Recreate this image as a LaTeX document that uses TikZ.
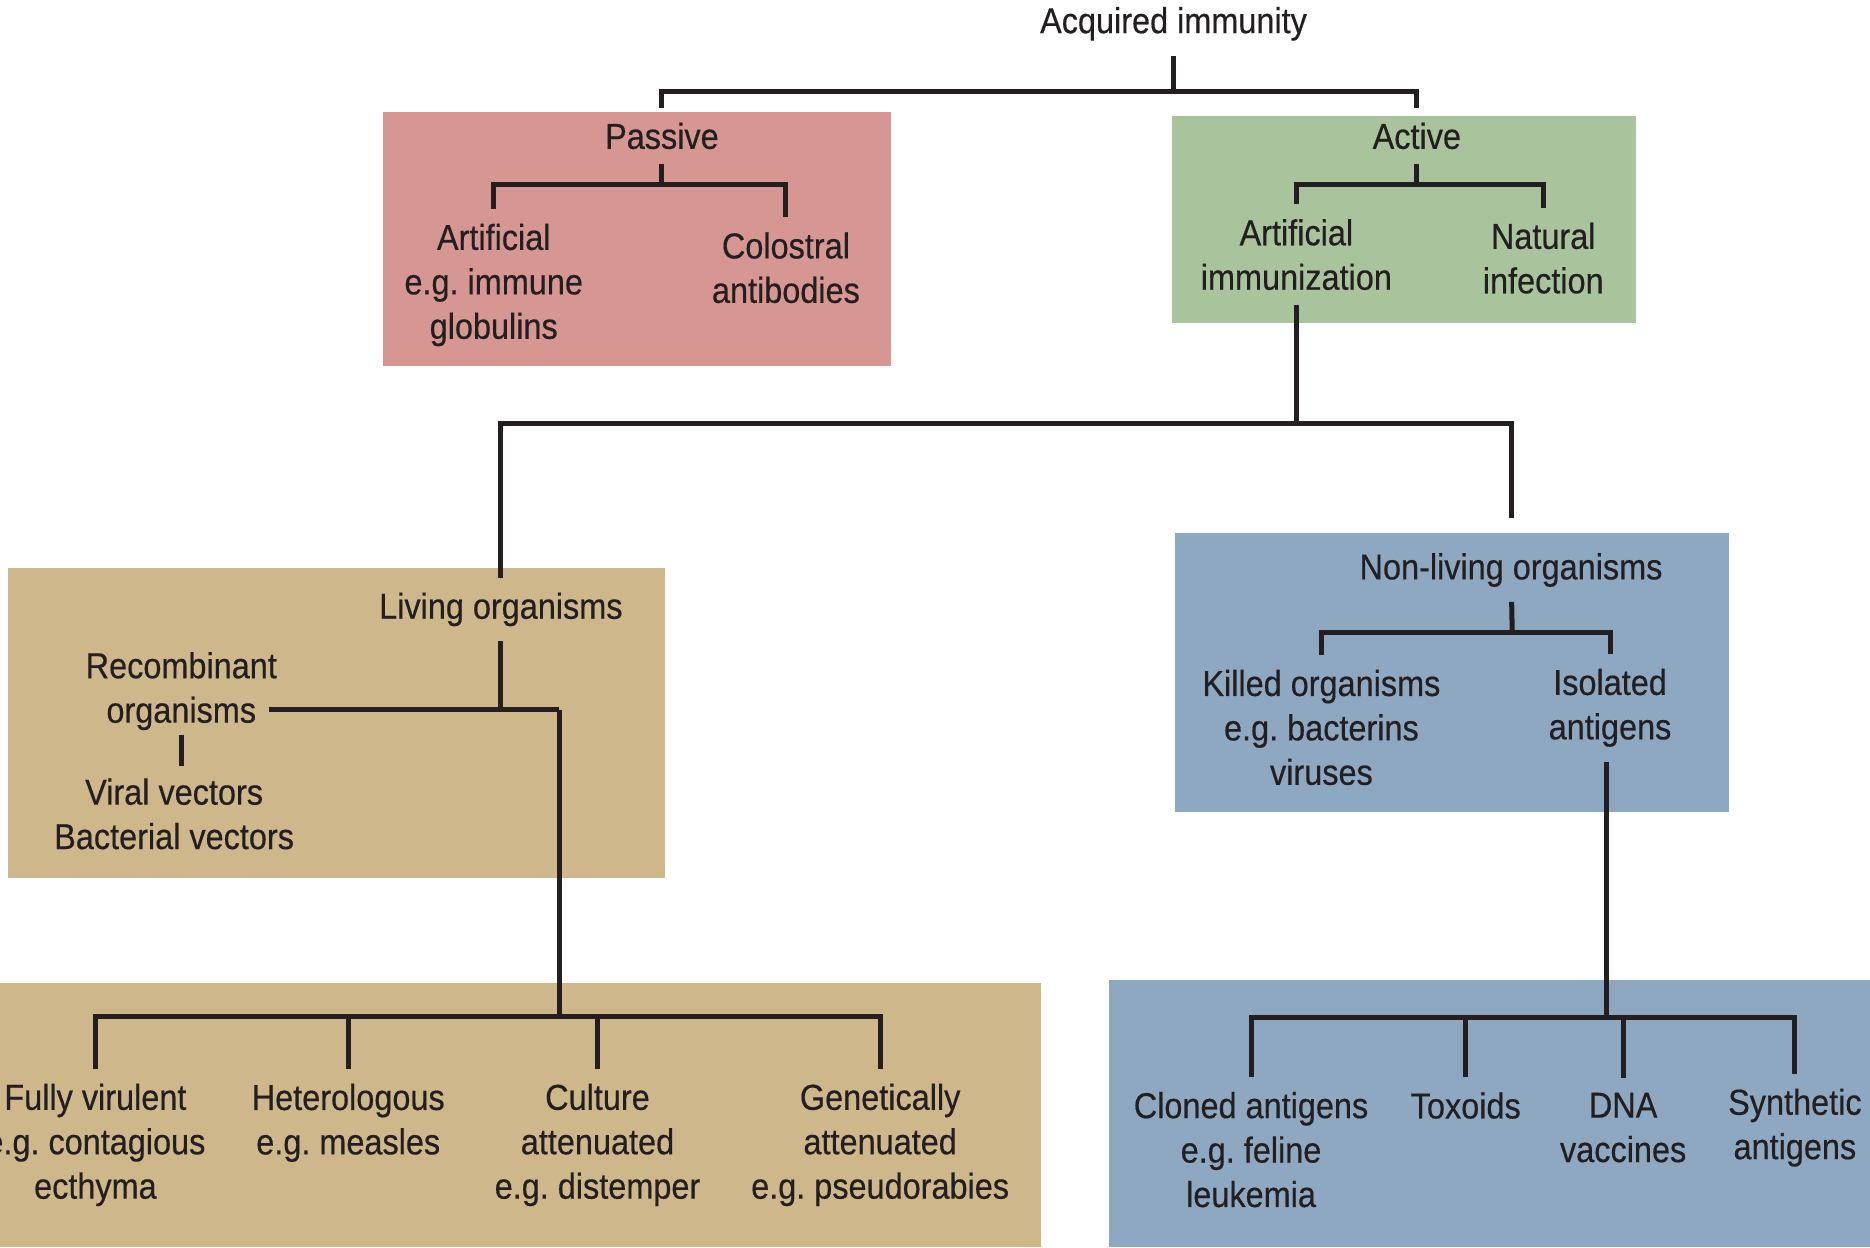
\documentclass[tikz,border=0pt]{standalone}
\usepackage{fontspec}
\setmainfont{Liberation Sans}[FakeStretch=0.9, FakeBold=0.4]
\frenchspacing

\definecolor{inkgray}{HTML}{231F20}
\definecolor{passivepink}{HTML}{D69691}
\definecolor{activegreen}{HTML}{A9C49C}
\definecolor{livingtan}{HTML}{CEB78A}
\definecolor{nonlivingblue}{HTML}{8EA8C2}

\begin{document}
\begin{tikzpicture}[
    every node/.style={align=center, inner sep=3pt, text=inkgray, font=\fontsize{8.6}{10.6}\selectfont},
    line width=1.2pt, draw=inkgray
]
\useasboundingbox (0,0) rectangle (15.68,-10.46);

% Panels
\fill[passivepink] (3.21,-0.94) rectangle (7.47,-3.07);
\fill[activegreen] (9.83,-0.97) rectangle (13.72,-2.71);
\fill[livingtan] (0.07,-4.76) rectangle (5.58,-7.36);
\fill[livingtan] (0,-8.24) rectangle (8.73,-10.46);
\fill[nonlivingblue] (9.85,-4.47) rectangle (14.50,-6.81);
\fill[nonlivingblue] (9.30,-8.22) rectangle (15.68,-10.46);

% Nodes
\node (acq) at (9.84,-0.20) {Acquired immunity};
\node (passive) at (5.55,-1.14) {Passive};
\node (active) at (11.88,-1.14) {Active};
\node (pasart) at (4.14,-2.39) {Artificial\\e.g. immune\\globulins};
\node (colos) at (6.59,-2.245) {Colostral\\antibodies};
\node (actart) at (10.87,-2.135) {Artificial\\immunization};
\node (natural) at (12.94,-2.165) {Natural\\infection};
\node (living) at (4.20,-5.11) {Living organisms};
\node (nonliving) at (12.67,-4.78) {Non-living organisms};
\node (recomb) at (1.52,-5.795) {Recombinant\\organisms};
\node (vectors) at (1.46,-6.825) {Viral vectors\\Bacterial vectors};
\node (killed) at (11.08,-6.10) {Killed organisms\\e.g. bacterins\\viruses};
\node (isolated) at (13.50,-5.935) {Isolated\\antigens};
\node (fully) at (0.80,-9.60) {Fully virulent\\e.g. contagious\\ecthyma};
\node (hetero) at (2.92,-9.415) {Heterologous\\e.g. measles};
\node (culture) at (5.01,-9.60) {Culture\\attenuated\\e.g. distemper};
\node (genetic) at (7.38,-9.60) {Genetically\\attenuated\\e.g. pseudorabies};
\node (cloned) at (10.49,-9.64) {Cloned antigens\\e.g. feline\\leukemia};
\node (toxoids) at (12.29,-9.27) {Toxoids};
\node (dna) at (13.61,-9.455) {DNA\\vaccines};
\node (synth) at (15.05,-9.455) {Synthetic\\antigens};

% Junctions
\coordinate (acqbar) at (9.84,-0.77);
\coordinate (pasbar) at (5.55,-1.55);
\coordinate (actbar) at (11.88,-1.55);
\coordinate (immbar) at (10.87,-3.55);
\coordinate (livbar) at (4.69,-5.95);
\coordinate (lowbar) at (4.69,-8.52);
\coordinate (nonbar) at (12.68,-5.30);
\coordinate (isobar) at (13.47,-8.53);

% Edges
\draw (acq) -- (acqbar);
\draw (passive.north) |- (acqbar) -| (active.north);
\draw (passive) -- (pasbar);
\draw (pasart.north) |- (pasbar) -| (colos.north);
\draw (active) -- (actbar);
\draw (actart.north) |- (actbar) -| (natural.north);
\draw (actart) -- (immbar);
\draw[shorten >=0.17cm] (living.north) |- (immbar) -| (nonliving.north);
\draw (living) -- (living |- livbar);
\draw[shorten <=-5.5pt] (recomb.east |- livbar) -- (livbar);
\draw[shorten <=-2.5pt, shorten >=-0.5pt] (recomb.south) -- (recomb.south |- vectors.north);
\draw (livbar) -- (lowbar);
\draw (fully.north) |- (lowbar) -| (genetic.north);
\draw (hetero.north) -- (hetero.north |- lowbar);
\draw (culture.north) -- (culture.north |- lowbar);
\draw (nonliving) -- (nonbar);
\draw (killed.north) |- (nonbar) -| (isolated.north);
\draw (isolated.south -| isobar) -- (isobar);
\draw (cloned.north) |- (isobar) -| (synth.north);
\draw (toxoids.north) -- (toxoids.north |- isobar);
\draw (dna.north) -- (dna.north |- isobar);

\end{tikzpicture}
\end{document}
